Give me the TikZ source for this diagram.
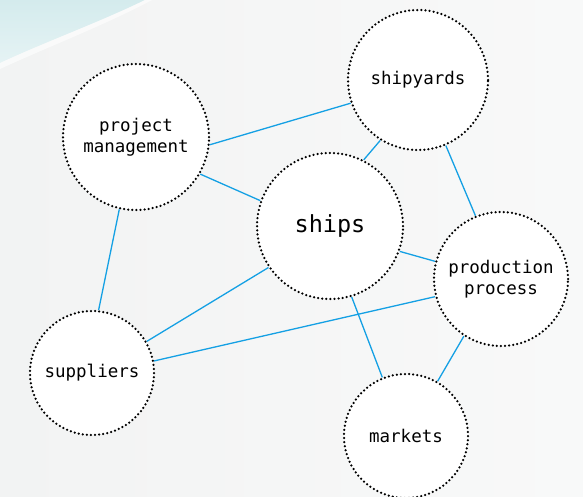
\documentclass[tikz,border=0pt]{standalone}
\usepackage{fontspec}
\newfontfamily\dmono{DejaVu Sans Mono}
\definecolor{edgeblue}{RGB}{20,160,228}
\definecolor{swoosh}{RGB}{212,235,237}
\definecolor{bggray}{RGB}{242,243,243}
\begin{document}
\begin{tikzpicture}[x=1pt,y=-1pt,
  hub/.style={circle, fill=white, draw=black, line width=2.5pt,
    dash pattern=on 0pt off 4.1pt, line cap=round, inner sep=0pt,
    font=\dmono\fontsize{17.5}{20.5}\selectfont, align=center, text=black},
  link/.style={draw=edgeblue, line width=1.3pt}]
\useasboundingbox (0,0) rectangle (583,496);
\shade[left color=bggray, right color=white!50!bggray] (0,0) rectangle (583,496);
\shade[top color=swoosh, bottom color=white!40!swoosh] (0,0) -- (0,63) .. controls (45,42) and (100,22) .. (145,0) -- cycle;
\fill[white,opacity=0.6] (0,63) .. controls (45,42) and (100,22) .. (145,0) -- (152,0) .. controls (105,25) and (50,46) .. (0,69) -- cycle;

\node[hub, minimum size=146pt] (pm) at (136,137) {project\\management};
\node[hub, minimum size=140pt] (sy) at (418,80) {shipyards};
\node[hub, minimum size=146pt, font=\dmono\fontsize{23.5}{27}\selectfont] (sh) at (330,226) {ships};
\node[hub, minimum size=134pt] (pp) at (501,279) {production\\process};
\node[hub, minimum size=124pt] (su) at (92,373) {suppliers};
\node[hub, minimum size=124pt] (mk) at (406,436) {markets};

\draw[link] (pm.-6) -- (sy.-161);
\draw[link] (pm.-30) -- (sh.160);
\draw[link] (pm.-103) -- (su.84);
\draw[link] (sy.-122) -- (sh.63);
\draw[link] (sy.-67) -- (pp.112);
\draw[link] (sh.-20) -- (pp.165);
\draw[link] (sh.-146) -- (su.30);
\draw[link] (sh.-73) -- (mk.112);
\draw[link] (su.11) -- (pp.-165);
\draw[link] (pp.-123) -- (mk.60);
\end{tikzpicture}
\end{document}
